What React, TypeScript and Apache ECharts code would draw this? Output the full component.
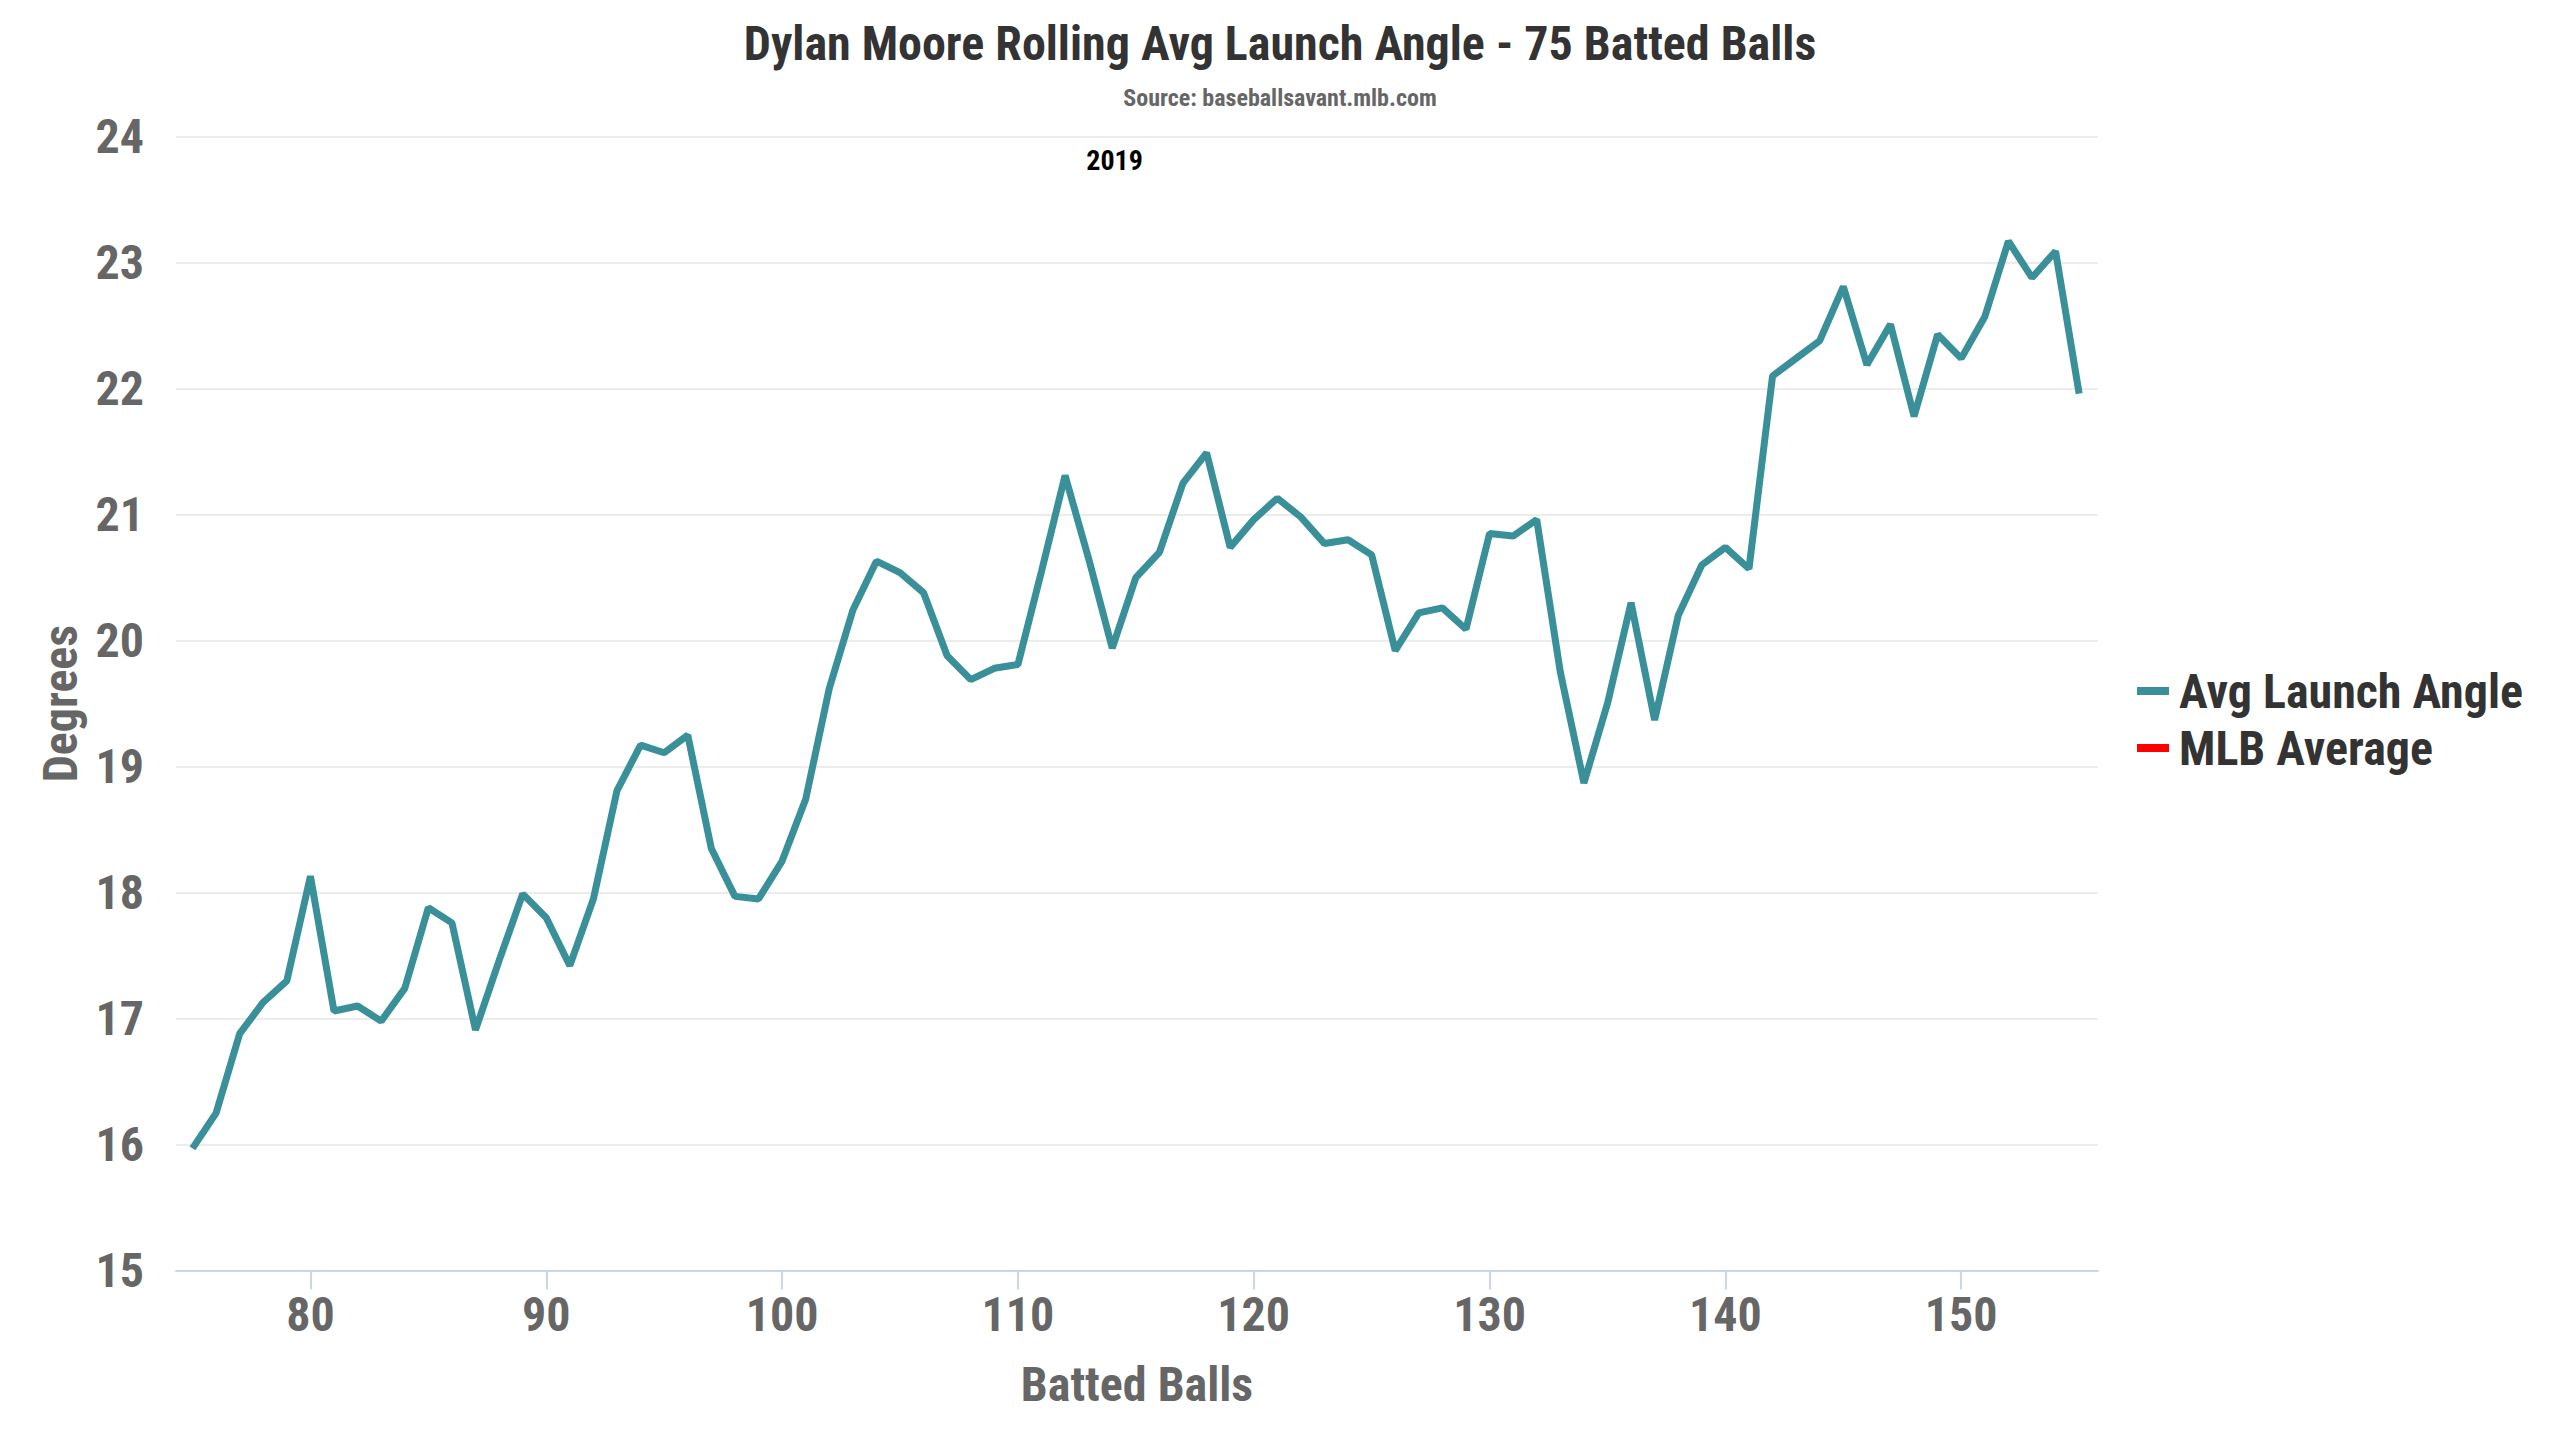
import * as echarts from 'echarts';
import { useEffect, useRef } from 'react';

// rolling 75-batted-ball window: x = batted ball number, y = avg launch angle (degrees)
const battedBalls = [
  75, 76, 77, 78, 79, 80, 81, 82, 83, 84, 85, 86, 87, 88, 89, 90, 91, 92, 93, 94,
  95, 96, 97, 98, 99, 100, 101, 102, 103, 104, 105, 106, 107, 108, 109, 110, 111, 112, 113, 114,
  115, 116, 117, 118, 119, 120, 121, 122, 123, 124, 125, 126, 127, 128, 129, 130, 131, 132, 133, 134,
  135, 136, 137, 138, 139, 140, 141, 142, 143, 144, 145, 146, 147, 148, 149, 150, 151, 152, 153, 154,
  155,
];

const avgLaunchAngle = [
  15.97, 16.25, 16.88, 17.13, 17.3, 18.13, 17.06, 17.1, 16.98, 17.24, 17.88, 17.76, 16.91, 17.46, 17.99, 17.8, 17.42, 17.95, 18.81, 19.17,
  19.11, 19.25, 18.35, 17.97, 17.95, 18.25, 18.74, 19.62, 20.24, 20.63, 20.54, 20.38, 19.88, 19.69, 19.78, 19.81, 20.55, 21.31, 20.65, 19.94,
  20.5, 20.7, 21.25, 21.49, 20.74, 20.96, 21.13, 20.98, 20.77, 20.8, 20.68, 19.92, 20.22, 20.26, 20.09, 20.85, 20.83, 20.96, 19.75, 18.87,
  19.5, 20.3, 19.37, 20.2, 20.6, 20.74, 20.57, 22.1, 22.24, 22.38, 22.81, 22.19, 22.51, 21.78, 22.43, 22.24, 22.57, 23.17, 22.88, 23.09,
  21.96,
];

// no MLB average points fall inside this window
const mlbAverage: number[][] = [];

const xTicks = [80, 90, 100, 110, 120, 130, 140, 150];
const seasonLabel = '2019';
const seasonLabelAt = [114.1, 23.81];

const FONT = "'Roboto Condensed', 'Liberation Sans Narrow', 'DejaVu Sans Condensed', Roboto, sans-serif";

const App = () => {
  const chartRef = useRef<HTMLDivElement>(null);

  useEffect(() => {
    if (!chartRef.current) return;
    const chart = echarts.init(chartRef.current, undefined, { renderer: 'svg' });

    const option: echarts.EChartsOption = {
      animation: false,
      backgroundColor: '#ffffff',
      textStyle: { fontFamily: FONT },
      title: [
        {
          text: 'Dylan Moore Rolling Avg Launch Angle - 75 Batted Balls',
          left: 'center',
          top: 19,
          padding: 0,
          textStyle: { fontFamily: FONT, fontSize: 48, fontWeight: 'bold', color: '#333333' },
        },
        {
          text: 'Source: baseballsavant.mlb.com',
          left: 'center',
          top: 86,
          padding: 0,
          textStyle: { fontFamily: FONT, fontSize: 24, fontWeight: 'bold', color: '#666666' },
        },
      ],
      legend: {
        orient: 'vertical',
        left: 2132,
        top: 662,
        icon: 'rect',
        itemWidth: 32,
        itemHeight: 8,
        itemGap: 9,
        textStyle: { fontFamily: FONT, fontSize: 48, fontWeight: 'bold', color: '#333333', padding: [0, 0, 0, 5] },
        data: ['Avg Launch Angle', 'MLB Average'],
      },
      grid: { left: 176, right: 462, top: 136.6, bottom: 169.4 },
      xAxis: {
        type: 'value',
        min: 74.3,
        max: 155.8,
        name: 'Batted Balls',
        nameLocation: 'middle',
        nameGap: 90,
        nameTextStyle: { fontFamily: FONT, fontSize: 48, fontWeight: 'bold', color: '#666666' },
        axisLine: { show: true, lineStyle: { color: '#ccd6eb', width: 2 } },
        axisTick: { show: true, length: 19, lineStyle: { color: '#ccd6eb', width: 2 }, customValues: xTicks },
        axisLabel: { fontFamily: FONT, fontSize: 48, fontWeight: 'bold', color: '#666666', margin: 20, customValues: xTicks },
        splitLine: { show: false },
      },
      yAxis: {
        type: 'value',
        min: 15,
        max: 24,
        interval: 1,
        name: 'Degrees',
        nameLocation: 'middle',
        nameRotate: 90,
        nameGap: 92,
        nameTextStyle: { fontFamily: FONT, fontSize: 48, fontWeight: 'bold', color: '#666666' },
        axisLine: { show: false },
        axisTick: { show: false },
        axisLabel: { fontFamily: FONT, fontSize: 48, fontWeight: 'bold', color: '#666666', margin: 32 },
        splitLine: { lineStyle: { color: '#e6e6e6', width: 1.5 } },
      },
      series: [
        {
          name: 'Avg Launch Angle',
          type: 'line',
          data: battedBalls.map((b, i) => [b, avgLaunchAngle[i]]),
          symbol: 'none',
          color: '#3a9099',
          lineStyle: { width: 7, color: '#3a9099' },
          markPoint: {
            symbol: 'circle',
            symbolSize: 0,
            data: [{ coord: seasonLabelAt, value: seasonLabel }],
            label: {
              show: true,
              position: 'inside',
              formatter: seasonLabel,
              fontFamily: FONT,
              fontSize: 28,
              fontWeight: 'bold',
              color: '#000000',
            },
          },
        },
        {
          name: 'MLB Average',
          type: 'line',
          data: mlbAverage,
          symbol: 'none',
          color: '#ff0000',
          lineStyle: { width: 7, color: '#ff0000' },
        },
      ],
    };

    chart.setOption(option);
    return () => {
      chart.dispose();
    };
  }, []);

  return (
    <div
      ref={chartRef}
      style={{ position: 'fixed', left: 0, top: 0, width: 2560, height: 1440 }}
    />
  );
};

export default App;
